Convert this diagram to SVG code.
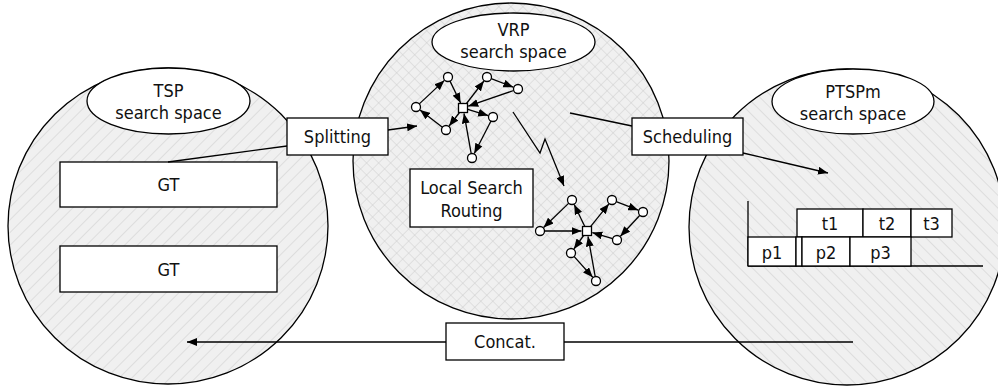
<svg xmlns="http://www.w3.org/2000/svg" width="998" height="389" viewBox="0 0 998 389">
<style>
.sp{stroke:#000;stroke-width:1.3}
.box{fill:#fff;stroke:#000;stroke-width:1.3}
.lbl{font-family:"DejaVu Sans Condensed","DejaVu Sans","Liberation Sans",sans-serif;font-stretch:condensed;font-size:18px;fill:#111;text-anchor:middle}
.ln{fill:none;stroke:#000;stroke-width:1.3}
.nd{fill:#fff;stroke:#000;stroke-width:1.3}
</style>
<defs>
<pattern id="hatchR" width="9" height="9" patternUnits="userSpaceOnUse" patternTransform="rotate(45)">
<rect width="9" height="9" fill="#f0f0f0"/>
<line x1="0" y1="0" x2="0" y2="9" stroke="#c6c6c6" stroke-width="0.9"/>
</pattern>
<pattern id="hatchL" width="9" height="9" patternUnits="userSpaceOnUse" patternTransform="rotate(-45)">
<rect width="9" height="9" fill="#f0f0f0"/>
<line x1="0" y1="0" x2="0" y2="9" stroke="#c6c6c6" stroke-width="0.9"/>
</pattern>
<pattern id="cross" width="8.5" height="8.5" patternUnits="userSpaceOnUse" patternTransform="rotate(45)">
<rect width="8.5" height="8.5" fill="#f0f0f0"/>
<line x1="0" y1="0" x2="0" y2="8.5" stroke="#cacaca" stroke-width="0.9"/>
<line x1="0" y1="0" x2="8.5" y2="0" stroke="#cacaca" stroke-width="0.9"/>
</pattern>
<marker id="ah" markerWidth="10" markerHeight="8" refX="10" refY="4" orient="auto" markerUnits="userSpaceOnUse">
<path d="M0,0 L10,4 L0,8 z" fill="#000"/>
</marker>
</defs>

<g id="tsp-space">
<ellipse cx="168" cy="226" rx="160" ry="158" fill="url(#hatchR)" class="sp"/>
<ellipse cx="168.5" cy="101" rx="81.5" ry="33" class="box"/>
<text class="lbl" x="168.5" y="97">TSP</text>
<text class="lbl" x="168.5" y="119">search space</text>
</g>

<g id="vrp-space">
<circle cx="511" cy="161" r="158" fill="url(#cross)" class="sp"/>
<ellipse cx="513.5" cy="42" rx="81.5" ry="29" class="box"/>
<text class="lbl" x="513.5" y="35.5">VRP</text>
<text class="lbl" x="513.5" y="57.5">search space</text>
</g>

<g id="ptspm-space">
<circle cx="847" cy="227" r="158" fill="url(#hatchL)" class="sp"/>
<ellipse cx="853" cy="101.5" rx="81" ry="32.5" class="box"/>
<text class="lbl" x="853" y="97.5">PTSPm</text>
<text class="lbl" x="853" y="119.5">search space</text>
</g>

<g id="gt1">
<rect x="60" y="162" width="217" height="45" class="box"/>
<text class="lbl" x="168.5" y="191">GT</text>
</g>
<g id="gt2">
<rect x="60" y="246" width="217" height="46" class="box"/>
<text class="lbl" x="168.5" y="275.5">GT</text>
</g>

<g id="connectors">
<line x1="287" y1="146" x2="168" y2="162" class="ln"/>
<line x1="388" y1="130" x2="417" y2="126" class="ln" marker-end="url(#ah)"/>
<line x1="570" y1="113" x2="632" y2="126" class="ln"/>
<line x1="743" y1="153" x2="828" y2="173" class="ln" marker-end="url(#ah)"/>
<polyline points="513,112 540,153 545,139 564,186" class="ln" marker-end="url(#ah)"/>
<line x1="564" y1="342" x2="853" y2="342" class="ln"/>
<line x1="446" y1="342" x2="187" y2="342" class="ln" marker-end="url(#ah)"/>
</g>

<g id="splitting">
<rect x="287" y="118" width="101" height="37" class="box"/>
<text class="lbl" x="337.5" y="143">Splitting</text>
</g>
<g id="scheduling">
<rect x="632" y="118" width="111" height="37" class="box"/>
<text class="lbl" x="687.5" y="143">Scheduling</text>
</g>
<g id="local-search">
<rect x="410" y="169" width="123" height="58" class="box"/>
<text class="lbl" x="471.5" y="193.5">Local Search</text>
<text class="lbl" x="471.5" y="216.5">Routing</text>
</g>
<g id="concat">
<rect x="446" y="323" width="118" height="37" class="box"/>
<text class="lbl" x="505" y="348">Concat.</text>
</g>

<g id="route-graph-1">
<g class="ln">
<line x1="419.3" y1="103.9" x2="444.4" y2="80.4" marker-end="url(#ah)"/>
<line x1="450" y1="81.1" x2="460.6" y2="103" marker-end="url(#ah)"/>
<line x1="466.1" y1="104" x2="483.9" y2="81" marker-end="url(#ah)"/>
<line x1="491.2" y1="78.6" x2="513.3" y2="87.2" marker-end="url(#ah)"/>
<line x1="513.7" y1="90.5" x2="468.2" y2="106.2" marker-end="url(#ah)"/>
<line x1="467.8" y1="109.4" x2="488.2" y2="115.6" marker-end="url(#ah)"/>
<line x1="491" y1="121" x2="474.3" y2="153.5" marker-end="url(#ah)"/>
<line x1="471.2" y1="153.6" x2="464" y2="113.4" marker-end="url(#ah)"/>
<line x1="459.9" y1="112" x2="449.1" y2="126" marker-end="url(#ah)"/>
<line x1="442.4" y1="127.3" x2="420" y2="110" marker-end="url(#ah)"/>
</g>
<circle cx="448" cy="77" r="4.5" class="nd"/>
<circle cx="487" cy="77" r="4.5" class="nd"/>
<circle cx="518" cy="89" r="4.5" class="nd"/>
<circle cx="416" cy="107" r="4.5" class="nd"/>
<circle cx="446" cy="130" r="4.5" class="nd"/>
<circle cx="493" cy="117" r="4.5" class="nd"/>
<circle cx="472" cy="158" r="4.5" class="nd"/>
<rect x="458.5" y="103.5" width="9" height="9" class="nd"/>
</g>

<g id="route-graph-2">
<g class="ln">
<line x1="568.8" y1="203.1" x2="543.6" y2="227.5" marker-end="url(#ah)"/>
<line x1="544.5" y1="231" x2="581.5" y2="231" marker-end="url(#ah)"/>
<line x1="584.8" y1="226.5" x2="574.2" y2="204.5" marker-end="url(#ah)"/>
<line x1="590.1" y1="227.1" x2="608.9" y2="203.9" marker-end="url(#ah)"/>
<line x1="616.2" y1="201.6" x2="638.3" y2="210.2" marker-end="url(#ah)"/>
<line x1="639.9" y1="215.3" x2="620.4" y2="236.3" marker-end="url(#ah)"/>
<line x1="612.7" y1="238.7" x2="592.3" y2="232.6" marker-end="url(#ah)"/>
<line x1="584" y1="235" x2="573.9" y2="249" marker-end="url(#ah)"/>
<line x1="574" y1="256.4" x2="592.7" y2="277.3" marker-end="url(#ah)"/>
<line x1="595.2" y1="276.6" x2="588" y2="236.4" marker-end="url(#ah)"/>
</g>
<circle cx="572" cy="200" r="4.5" class="nd"/>
<circle cx="612" cy="200" r="4.5" class="nd"/>
<circle cx="643" cy="212" r="4.5" class="nd"/>
<circle cx="617" cy="240" r="4.5" class="nd"/>
<circle cx="540" cy="231" r="4.5" class="nd"/>
<circle cx="571" cy="253" r="4.5" class="nd"/>
<circle cx="596" cy="281" r="4.5" class="nd"/>
<rect x="582.5" y="226.5" width="9" height="9" class="nd"/>
</g>

<g id="gantt">
<line x1="748" y1="201" x2="748" y2="266" class="ln"/>
<line x1="748" y1="266" x2="983" y2="266" class="ln"/>
<rect x="797" y="209" width="66" height="28" class="box"/>
<rect x="863" y="209" width="48" height="28" class="box"/>
<rect x="911" y="209" width="41" height="28" class="box"/>
<rect x="748" y="237" width="48" height="29" class="box"/>
<rect x="796" y="237" width="6" height="29" class="box"/>
<rect x="802" y="237" width="48" height="29" class="box"/>
<rect x="850" y="237" width="61" height="29" class="box"/>
<text class="lbl" x="830" y="229.5">t1</text>
<text class="lbl" x="887" y="229.5">t2</text>
<text class="lbl" x="931.5" y="229.5">t3</text>
<text class="lbl" x="772" y="258.5">p1</text>
<text class="lbl" x="826" y="258.5">p2</text>
<text class="lbl" x="880.5" y="258.5">p3</text>
</g>
</svg>
